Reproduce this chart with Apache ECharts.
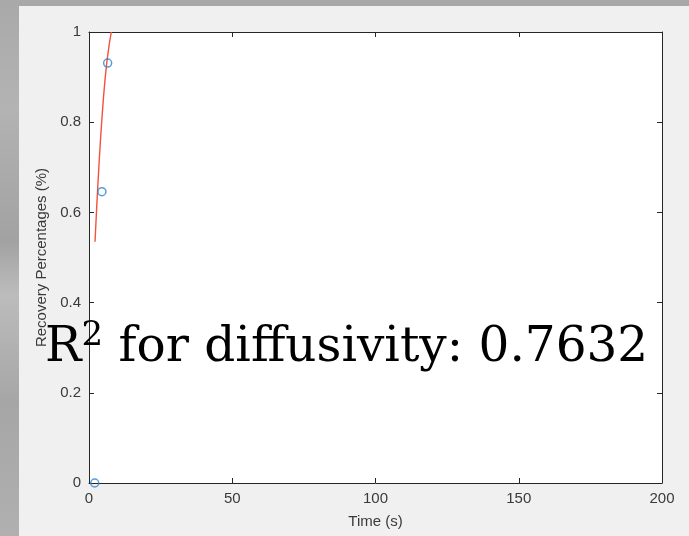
<!DOCTYPE html>
<html>
<head>
<meta charset="utf-8">
<title>Recovery fit</title>
<script src="https://cdn.jsdelivr.net/npm/echarts@6/dist/echarts.min.js"></script>
<style>
  html, body { margin: 0; padding: 0; background: #a8a8a8; }
  #chart { width: 689px; height: 536px; }
</style>
</head>
<body>
<div id="chart"></div>
<script>
// Measured recovery after photobleaching
const obsTime = [2, 4.5, 6.5];
const obsRecovery = [0, 0.646, 0.931];

// Fitted diffusion recovery curve
const fitTime = [2.1, 3, 4, 5, 6, 7, 7.8];
const fitRecovery = [0.535, 0.65, 0.76, 0.85, 0.92, 0.97, 1.0];

// Axis ranges and tick spacing
const xRange = [0, 200];
const xStep = 50;
const yRange = [0, 1];
const yStep = 0.2;

const rSquared = '0.7632';

const chart = echarts.init(document.getElementById('chart'));

const axisColor = '#262626';
const labelColor = '#3a3a3a';
const sansFont = 'Liberation Sans, Arial, Helvetica, sans-serif';

function boxAxis(base, showLabels) {
  return Object.assign({
    axisLine: { show: true, onZero: false, lineStyle: { color: axisColor, width: 1 } },
    axisTick: { show: true, inside: true, length: 5, lineStyle: { color: axisColor, width: 1 } },
    splitLine: { show: false },
    axisLabel: { show: showLabels, color: labelColor, fontSize: 15, fontFamily: sansFont, margin: 8 }
  }, base);
}

chart.setOption({
  backgroundColor: 'transparent',
  animation: false,
  graphic: [
    {
      type: 'rect', z: -10, silent: true,
      shape: { x: 0, y: 0, width: 19, height: 536 },
      style: {
        fill: new echarts.graphic.LinearGradient(0, 0, 0, 1, [
          { offset: 0, color: '#a9a9a9' },
          { offset: 0.2, color: '#b3b3b3' },
          { offset: 0.45, color: '#a2a2a2' },
          { offset: 0.55, color: '#bcbcbc' },
          { offset: 0.75, color: '#a6a6a6' },
          { offset: 1, color: '#b0b0b0' }
        ])
      }
    },
    {
      type: 'rect', z: -9, silent: true,
      shape: { x: 19, y: 6, width: 670, height: 530 },
      style: { fill: '#f0f0f0' }
    },
    {
      type: 'rect', z: -8, silent: true,
      shape: { x: 89, y: 32, width: 573, height: 451 },
      style: { fill: '#ffffff' }
    },
    {
      type: 'text', z: 100, silent: true,
      left: 45, top: 319,
      style: {
        text: '{b|R}{s|2}{b| for diffusivity: ' + rSquared + '}',
        rich: {
          b: { fontSize: 48.5, fontFamily: 'DejaVu Serif', fill: '#000', verticalAlign: 'bottom', lineHeight: 54 },
          s: { fontSize: 34, fontFamily: 'DejaVu Serif', fill: '#000', verticalAlign: 'top', lineHeight: 54 }
        }
      }
    }
  ],
  grid: { left: 89, top: 32, right: 27, bottom: 53, containLabel: false },
  xAxis: [
    boxAxis({
      type: 'value', position: 'bottom', min: xRange[0], max: xRange[1], interval: xStep,
      name: 'Time (s)', nameLocation: 'middle', nameGap: 31,
      nameTextStyle: { color: labelColor, fontSize: 15, fontFamily: sansFont }
    }, true),
    boxAxis({
      type: 'value', position: 'top', min: xRange[0], max: xRange[1], interval: xStep
    }, false)
  ],
  yAxis: [
    boxAxis({
      type: 'value', position: 'left', min: yRange[0], max: yRange[1], interval: yStep,
      name: 'Recovery Percentages (%)', nameLocation: 'middle', nameGap: 38,
      nameTextStyle: { color: labelColor, fontSize: 15, fontFamily: sansFont }
    }, true),
    boxAxis({
      type: 'value', position: 'right', min: yRange[0], max: yRange[1], interval: yStep
    }, false)
  ],
  series: [
    {
      type: 'line',
      data: fitTime.map((t, i) => [t, fitRecovery[i]]),
      showSymbol: false,
      smooth: 0.3,
      clip: true,
      lineStyle: { color: '#f4503e', width: 1.4 },
      z: 3
    },
    {
      type: 'scatter',
      data: obsTime.map((t, i) => [t, obsRecovery[i]]),
      symbol: 'circle',
      symbolSize: 8,
      clip: false,
      itemStyle: { color: 'rgba(0,0,0,0)', borderColor: '#2a84d2', borderWidth: 1.5 },
      z: 4
    }
  ]
});
</script>
</body>
</html>
